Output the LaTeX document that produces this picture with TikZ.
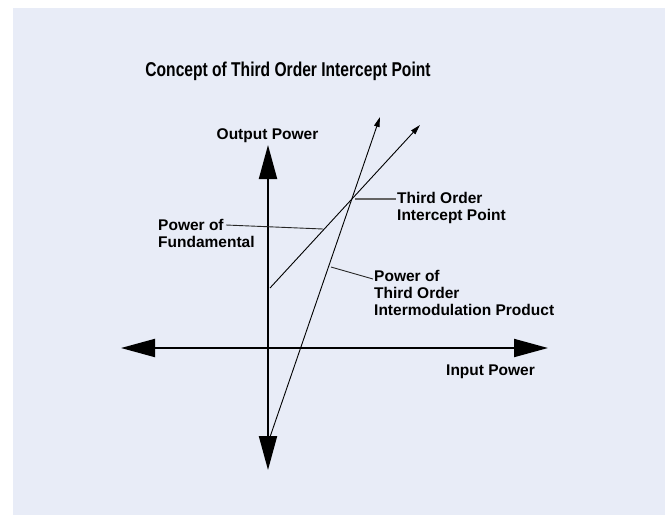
\documentclass[tikz,border=0pt]{standalone}
\usepackage{fontspec}
\setmainfont{Liberation Sans}
\usetikzlibrary{arrows.meta}
\definecolor{panel}{RGB}{232,236,247}
\definecolor{leadgray}{RGB}{100,100,100}
\tikzset{
  axis/.style={line width=2pt,{Triangle[length=34pt,width=18pt]}-{Triangle[length=34pt,width=18pt]}},
  curve/.style={line width=0.9pt,-{Triangle[length=10pt,width=5.5pt]}},
  leader/.style={line width=0.9pt,draw=black!85},
  leadergray/.style={line width=1.6pt,draw=leadgray},
  lbl/.style={font=\fontsize{15.5}{17}\selectfont\bfseries,align=left,inner sep=0pt},
  ttl/.style={font=\fontsize{20}{22}\selectfont\bfseries,inner sep=0pt}
}
\begin{document}
\begin{tikzpicture}[x=1pt,y=-1pt]
\useasboundingbox (0,0) rectangle (665,515);
\fill[panel] (13,8) rectangle (665,515);
% title
\node[ttl] (title) at (288,71) {\scalebox{0.78}[1]{Concept of Third Order Intercept Point}};
% axes
\coordinate (ytop) at (268,145);
\coordinate (ybot) at (268,470);
\coordinate (xl) at (121,348);
\coordinate (xr) at (548,348);
\draw[axis] (ybot) -- (ytop);
\draw[axis] (xl) -- (xr);
% curves
\coordinate (f0) at (270,288);
\coordinate (f1) at (420,125);
\coordinate (t0) at (270,437);
\coordinate (t1) at (380,117);
\draw[curve] (f0) -- (f1);
\draw[curve] (t0) -- (t1);
% labels
\node[lbl] (outp) at (267.5,136) {Output Power};
\node[lbl,anchor=west] (inp) at (446,372) {Input Power};
\node[lbl,anchor=west] (fund) at (158,233) {Power of\\Fundamental};
\node[lbl,anchor=west] (toi) at (397,208) {Third Order\\Intercept Point};
\node[lbl,anchor=west] (im3) at (374,293) {Power of\\Third Order\\Intermodulation Product};
% leader lines
\coordinate (fundA) at (226,225);
\coordinate (fundB) at (323,229);
\coordinate (toiA) at (355,199);
\coordinate (toiB) at (396,199);
\coordinate (imA) at (331,267);
\coordinate (imB) at (373,279);
\draw[leader] (fundA) -- (fundB);
\draw[leadergray] (toiA) -- (toiB);
\draw[leader] (imA) -- (imB);
\end{tikzpicture}
\end{document}
